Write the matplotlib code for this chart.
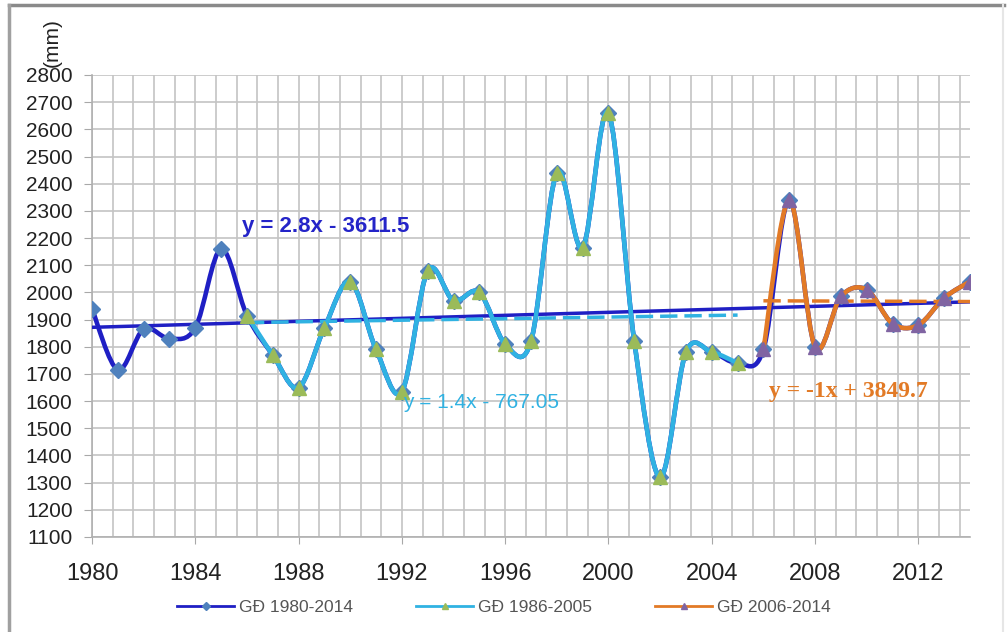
import numpy as np
import matplotlib
matplotlib.use("Agg")
import matplotlib.pyplot as plt
from matplotlib.path import Path
from matplotlib.patches import PathPatch
from matplotlib.lines import Line2D
from matplotlib.ticker import MultipleLocator

# annual rainfall (mm)
years = np.arange(1980, 2015)
rain = [1940, 1715, 1865, 1830, 1870, 2160, 1915, 1770, 1650, 1870,
        2040, 1790, 1635, 2080, 1970, 2000, 1810, 1820, 2440, 2165,
        2660, 1820, 1320, 1780, 1780, 1740, 1790, 2340, 1800, 1985,
        2010, 1885, 1880, 1980, 2040]
rain = np.array(rain, dtype=float)

periods = ["GĐ 1980-2014", "GĐ 1986-2005", "GĐ 2006-2014"]
spans = [(1980, 2014), (1986, 2005), (2006, 2014)]
eq_text = ["y = 2.8x - 3611.5", "y = 1.4x - 767.05", "y = -1x + 3849.7"]

line_col = ["#1f1fc4", "#30b2e2", "#e27a26"]
mark_col = ["#4f81bd", "#9bbb59", "#8064a2"]
markers = ["D", "^", "^"]


def smooth_path(x, y):
    # excel-like smoothed line: cubic bezier through every point
    pts = np.column_stack([x, y])
    n = len(pts)
    verts = [pts[0]]
    codes = [Path.MOVETO]
    for i in range(n - 1):
        p0 = pts[i - 1] if i > 0 else pts[i]
        p1 = pts[i]
        p2 = pts[i + 1]
        p3 = pts[i + 2] if i + 2 < n else pts[i + 1]
        c1 = p1 + (p2 - p0) / 6.0
        c2 = p2 - (p3 - p1) / 6.0
        verts += [c1, c2, p2]
        codes += [Path.CURVE4] * 3
    return Path(verts, codes)


fig = plt.figure(figsize=(10.08, 6.32), dpi=100)
ax = fig.add_axes([92 / 1008, 1 - 537 / 632, 878 / 1008, 462 / 632])

ax.set_xlim(1980, 2014)
ax.set_ylim(1100, 2800)
ax.xaxis.set_major_locator(MultipleLocator(4))
ax.xaxis.set_minor_locator(MultipleLocator(0.8))
ax.yaxis.set_major_locator(MultipleLocator(100))
ax.grid(True, which="both", axis="x", color="#c4c4c4", lw=1.2)
ax.grid(True, which="major", axis="y", color="#c4c4c4", lw=1.2)
ax.set_axisbelow(True)
for s in ["top", "right"]:
    ax.spines[s].set_visible(False)
for s in ["left", "bottom"]:
    ax.spines[s].set_color("#b0b0b0")
    ax.spines[s].set_linewidth(1.2)
ax.tick_params(axis="x", which="major", length=5, color="#a8a8a8",
               labelsize=17, pad=14, labelcolor="#222222")
ax.tick_params(axis="x", which="minor", length=0)
ax.tick_params(axis="y", length=6, color="#a8a8a8", labelsize=15,
               pad=8, labelcolor="#222222")
for lab in ax.get_xticklabels() + ax.get_yticklabels():
    lab.set_family("Liberation Sans")

handles = []
for k, (a, b) in enumerate(spans):
    sel = (years >= a) & (years <= b)
    xs, ys = years[sel].astype(float), rain[sel]
    # trend line
    coef = np.polyfit(xs, ys, 1)
    ls = "-" if k == 0 else (0, (5, 2))
    ax.plot([a, b], np.polyval(coef, [a, b]), color=line_col[k], lw=2.5,
            ls=ls, zorder=3 + k)
    # smoothed series + markers
    ax.add_patch(PathPatch(smooth_path(xs, ys), fill=False,
                           edgecolor=line_col[k], lw=3.3, zorder=3 + k,
                           capstyle="round", joinstyle="round"))
    ax.plot(xs, ys, ls="none", marker=markers[k], ms=8.5 if k == 0 else 10.5,
            mfc=mark_col[k], mec=mark_col[k], zorder=4 + k)
    handles.append(Line2D([], [], color=line_col[k], lw=2, marker=markers[k],
                          ms=4, mfc=mark_col[k], mec=mark_col[k]))

ax.text(1985.8, 2241, eq_text[0], color="#2424c8", fontsize=16,
        fontweight="bold", family="Liberation Sans", va="center", zorder=10)
ax.text(1992.05, 1594, eq_text[1], color="#30b2e2", fontsize=15,
        family="Liberation Sans", va="center", zorder=10)
ax.text(2006.2, 1635, eq_text[2], color="#e27a26", fontsize=17,
        fontweight="bold", family="Liberation Serif", va="center", zorder=10)

fig.text(52 / 1008, 1 - 67 / 632, "(mm)", rotation=90, fontsize=15,
         family="Liberation Sans", color="#222222", ha="center", va="bottom")

fig.legend(handles, periods, loc="center", bbox_to_anchor=(0.5, 1 - 607 / 632),
           ncol=3, frameon=False, handlelength=3.3,
           handletextpad=0.3, columnspacing=3.6, labelcolor="#555555",
           prop={"family": "Liberation Sans", "size": 12.5})

# outer frame
fig.add_artist(Line2D([9 / 1008, 1004 / 1008], [1 - 5 / 632, 1 - 5 / 632],
                      transform=fig.transFigure, color="#8a8a8a", lw=2.5))
fig.add_artist(Line2D([9 / 1008, 9 / 1008], [0, 1 - 5 / 632],
                      transform=fig.transFigure, color="#a0a0a0", lw=2.5))
fig.add_artist(Line2D([1003 / 1008, 1003 / 1008], [0, 1 - 5 / 632],
                      transform=fig.transFigure, color="#e6e6e6", lw=1.5))

fig.savefig("out.png", dpi=100)
